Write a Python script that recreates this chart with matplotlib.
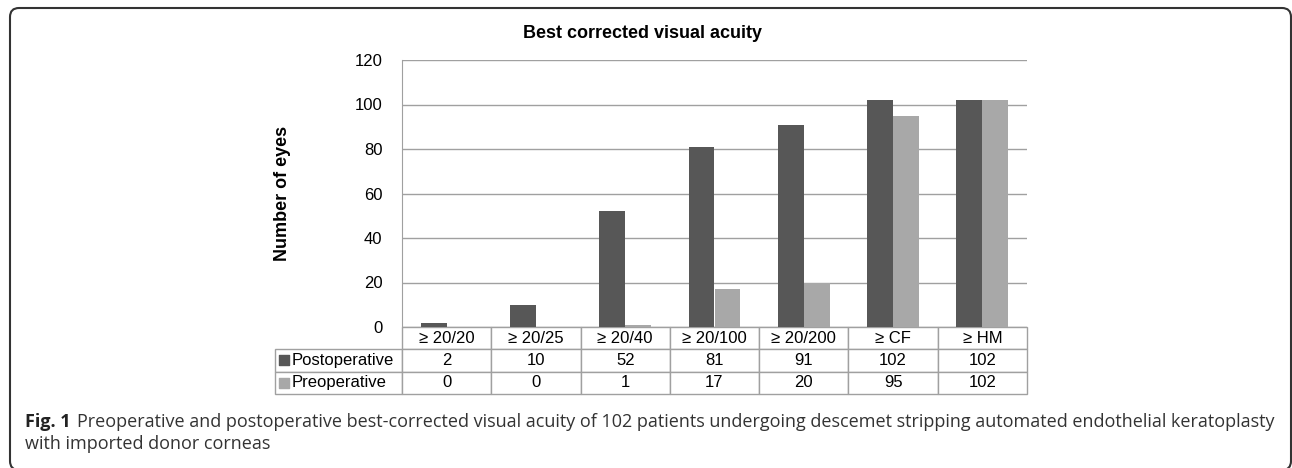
import numpy as np
import matplotlib
matplotlib.use("Agg")
import matplotlib.pyplot as plt
from matplotlib.patches import FancyBboxPatch
from matplotlib.transforms import IdentityTransform

# chart values
categories = ["\u2265 20/20", "\u2265 20/25", "\u2265 20/40", "\u2265 20/100",
              "\u2265 20/200", "\u2265 CF", "\u2265 HM"]
postoperative = [2, 10, 52, 81, 91, 102, 102]
preoperative = [0, 0, 1, 17, 20, 95, 102]
series_names = ["Postoperative", "Preoperative"]
y_ticks = [0, 20, 40, 60, 80, 100, 120]

post_color = "#575757"
pre_color = "#a8a8a8"
line_gray = "#a0a0a0"

W, H = 1292, 468
plt.rcParams["font.family"] = ["Liberation Sans", "DejaVu Sans"]

fig = plt.figure(figsize=(W / 100, H / 100), dpi=100)

# axes placed in pixel terms
ax_l, ax_r, ax_t, ax_b = 402, 1027, 60, 327
ax = fig.add_axes([ax_l / W, 1 - ax_b / H, (ax_r - ax_l) / W, (ax_b - ax_t) / H])
ax_w, ax_h = ax_r - ax_l, ax_b - ax_t

x = np.arange(len(categories))
bw = 0.29
ax.bar(x - bw / 2, postoperative, bw, color=post_color, zorder=3)
ax.bar(x + bw / 2, preoperative, bw, color=pre_color, zorder=3)

ax.set_xlim(-0.5, len(categories) - 0.5)
ax.set_ylim(0, 120)
ax.set_yticks(y_ticks)
ax.tick_params(axis="y", length=0, pad=14, labelsize=12)
ax.set_xticks([])
ax.yaxis.grid(True, color=line_gray, lw=1, zorder=0)
for s in ["top", "right", "bottom"]:
    ax.spines[s].set_visible(False)
ax.spines["left"].set_color(line_gray)

ax.set_ylabel("Number of eyes", fontsize=13, fontweight="bold")
ax.yaxis.set_label_coords((291 - ax_l) / ax_w, 0.5)

# data table under the plot
tab_left, tab_bottom = 275, 394
cell_text = [[series_names[0]] + [str(v) for v in postoperative],
             [series_names[1]] + [str(v) for v in preoperative]]
label_w = (ax_l - tab_left) / ax_w
col_w = [label_w] + [1 / len(categories)] * len(categories)
tbl = ax.table(cellText=cell_text, colLabels=[""] + categories,
               colWidths=col_w, cellLoc="center",
               bbox=[-label_w, -(tab_bottom - ax_b) / ax_h,
                     1 + label_w, (tab_bottom - ax_b) / ax_h])
tbl.auto_set_font_size(False)
tbl.set_fontsize(12)
for (r, c), cell in tbl.get_celld().items():
    cell.set_edgecolor(line_gray)
    cell.set_linewidth(1)
    if r == 0 and c == 0:
        cell.set_visible(False)
    if c == 0 and r > 0:
        cell._loc = "left"
        cell.PAD = 17 / (ax_l - tab_left)
        cell.get_text().set_ha("left")

# legend squares in the row label cells
row_mid = [(349 + 371) / 2, (371 + 394) / 2]
for ym, col in zip(row_mid, [post_color, pre_color]):
    ax.scatter([(284 - ax_l) / ax_w], [(ax_b - ym) / ax_h], marker="s", s=45,
               color=col, transform=ax.transAxes, clip_on=False, zorder=5)

fig.text(523 / W, 1 - 38 / H, "Best corrected visual acuity", fontsize=13,
         fontweight="bold", ha="left", va="baseline")

# caption
cap_font = ["Open Sans", "DejaVu Sans"]
fig_lbl = fig.text(25 / W, 1 - 427 / H, "Fig. 1", fontsize=13, fontweight="bold",
                   family=cap_font, color="#222222", va="baseline")
renderer = fig.canvas.get_renderer()
lbl_end = fig_lbl.get_window_extent(renderer).x1
fig.text((lbl_end + 6) / W, 1 - 427 / H,
         "Preoperative and postoperative best-corrected visual acuity of 102 patients "
         "undergoing descemet stripping automated endothelial keratoplasty",
         fontsize=13, family=cap_font, color="#333333", va="baseline")
fig.text(25 / W, 1 - 449 / H, "with imported donor corneas", fontsize=13,
         family=cap_font, color="#333333", va="baseline")

# rounded frame around the whole figure
frame = FancyBboxPatch((10, H - 470), 1281, 462,
                       boxstyle="round,pad=0,rounding_size=9",
                       transform=IdentityTransform(), fill=False,
                       edgecolor="#333333", lw=1.5)
fig.patches.append(frame)

fig.savefig("out.png", dpi=100)
